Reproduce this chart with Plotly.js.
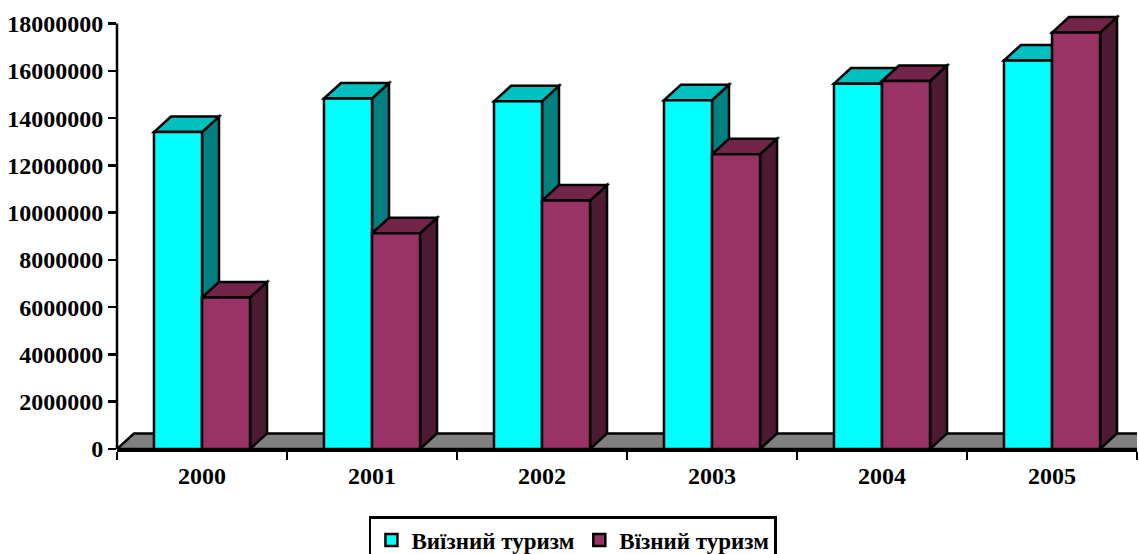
<!DOCTYPE html>
<html>
<head>
<meta charset="utf-8">
<script src="https://cdn.plot.ly/plotly-3.0.1.min.js"></script>
<style>
  html, body { margin: 0; padding: 0; background: #ffffff; }
  #chart { width: 1139px; height: 554px; }
</style>
</head>
<body>
<div id="chart"></div>
<script>
// ---- data ----
const years = ['2000', '2001', '2002', '2003', '2004', '2005'];
const outbound = [13410000, 14830000, 14710000, 14760000, 15460000, 16440000]; // Виїзний туризм
const inbound  = [6410000, 9130000, 10510000, 12470000, 15570000, 17620000];   // Вїзний туризм
const seriesNames = ['Виїзний туризм', 'Вїзний туризм'];
const yTickVals = [0, 2000000, 4000000, 6000000, 8000000, 10000000, 12000000, 14000000, 16000000, 18000000];
const yTickText = ['0', '2000000', '4000000', '6000000', '8000000', '10000000', '12000000', '14000000', '16000000', '18000000'];

// ---- style ----
const FONT = '"Liberation Serif", "Times New Roman", "DejaVu Serif", serif';
const barW = 0.2825;          // bar width in category units
const depthX = 0.1;           // 3D depth offset, category units
const depthY = 656000;        // 3D depth offset, value units
const yTop = 18660000;        // axis range top (room for 3D tops)
const LW = 2.5;
const colors = {
  out:  {front: '#00FFFF', top: '#00C0C0', side: '#008080'},
  inb:  {front: '#993366', top: '#732549', side: '#4D1A33'},
  floor: '#808080'
};

function poly(pts, fill) {
  const d = 'M' + pts.map(p => p[0] + ',' + p[1]).join(' L') + ' Z';
  return {type: 'path', xref: 'x', yref: 'y', path: d, fillcolor: fill,
          line: {color: '#000000', width: LW}, layer: 'below'};
}
function boxFaces(left, right, v, c) {
  return [
    poly([[right, 0], [right + depthX, depthY], [right + depthX, v + depthY], [right, v]], c.side),
    poly([[left, v], [left + depthX, v + depthY], [right + depthX, v + depthY], [right, v]], c.top)
  ];
}

const shapes = [];
shapes.push(poly([[-0.5, 0], [-0.5 + depthX, depthY], [years.length - 0.5 + depthX, depthY], [years.length - 0.5, 0]], colors.floor));
years.forEach((y, i) => {
  shapes.push(...boxFaces(i - barW, i, outbound[i], colors.out));
  shapes.push(...boxFaces(i, i + barW, inbound[i], colors.inb));
});
shapes.push({type: 'line', xref: 'paper', yref: 'y', x0: 0, x1: 0,
             y0: yTickVals[0], y1: yTickVals[yTickVals.length - 1],
             line: {color: '#000000', width: LW}, layer: 'above'});

const traces = [
  {type: 'bar', name: seriesNames[0], x: years, y: outbound, width: barW, offset: -barW,
   marker: {color: colors.out.front, line: {color: '#000000', width: LW}}, hoverinfo: 'x+y'},
  {type: 'bar', name: seriesNames[1], x: years, y: inbound, width: barW, offset: 0,
   marker: {color: colors.inb.front, line: {color: '#000000', width: LW}}, hoverinfo: 'x+y'}
];

const layout = {
  width: 1139, height: 554,
  margin: {l: 117, r: 2, t: 8, b: 105, pad: 0, autoexpand: false},
  paper_bgcolor: '#ffffff', plot_bgcolor: '#ffffff',
  barmode: 'overlay',
  showlegend: true,
  font: {family: FONT, color: '#000000'},
  xaxis: {
    type: 'category', range: [-0.5, years.length - 0.5], tickson: 'boundaries',
    ticks: 'outside', ticklen: 8, tickwidth: LW, tickcolor: '#000000',
    showline: true, linewidth: LW, linecolor: '#000000',
    showgrid: false, zeroline: false, automargin: false,
    tickfont: {family: FONT, size: 24, weight: 'bold', color: '#000000'},
    ticklabelstandoff: 4
  },
  yaxis: {
    range: [0, yTop], tickmode: 'array', tickvals: yTickVals, ticktext: yTickText,
    ticks: 'outside', ticklen: 8, tickwidth: LW, tickcolor: '#000000',
    showline: false, showgrid: false, zeroline: false, automargin: false,
    tickfont: {family: FONT, size: 24, weight: 'bold', color: '#000000'}
  },
  legend: {
    orientation: 'h', x: 0.247, xanchor: 'left', y: -0.152, yanchor: 'top',
    bgcolor: '#ffffff', bordercolor: '#000000', borderwidth: 2.5,
    font: {family: FONT, size: 23, weight: 'bold', color: '#000000'},
    itemwidth: 30, traceorder: 'normal'
  },
  shapes: shapes
};

Plotly.newPlot('chart', traces, layout, {displayModeBar: false, staticPlot: true});
</script>
</body>
</html>
